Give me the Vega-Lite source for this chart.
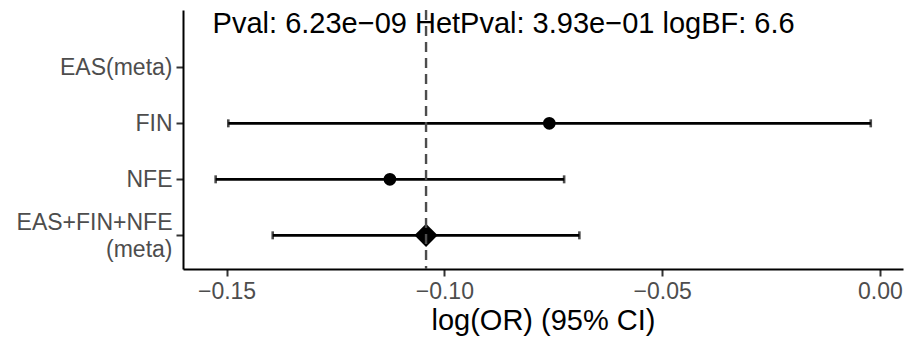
{
  "$schema": "https://vega.github.io/schema/vega-lite/v6.json",
  "width": 720,
  "height": 259,
  "autosize": "none",
  "padding": {"left": 183, "top": 10, "right": 3, "bottom": 71},
  "background": "white",
  "data": {
    "values": [
      {"group": "EAS(meta)", "beta": null, "lo": null, "hi": null, "type": "meta"},
      {"group": "FIN", "beta": -0.0759, "lo": -0.1496, "hi": -0.0021, "type": "study"},
      {"group": "NFE", "beta": -0.1125, "lo": -0.1525, "hi": -0.0725, "type": "study"},
      {"group": "EAS+FIN+NFE (meta)", "beta": -0.1042, "lo": -0.1394, "hi": -0.069, "type": "meta"}
    ]
  },
  "encoding": {
    "y": {
      "field": "group",
      "type": "nominal",
      "sort": null,
      "scale": {
        "domain": ["EAS(meta)", "FIN", "NFE", "EAS+FIN+NFE (meta)"],
        "type": "point",
        "padding": 0.8125,
        "align": 0.63
      },
      "axis": {
        "title": null,
        "labelExpr": "datum.label == 'EAS+FIN+NFE (meta)' ? ['EAS+FIN+NFE', '(meta)'] : datum.label",
        "labelFont": "Liberation Sans",
        "labelFontSize": 23,
        "labelColor": "#4D4D4D",
        "labelLineHeight": 27,
        "labelPadding": 4,
        "labelOffset": {"condition": {"test": "datum.value == 'EAS+FIN+NFE (meta)'", "value": -13}, "value": 0},
        "tickColor": "#333333",
        "tickSize": 7,
        "tickWidth": 2,
        "domainColor": "#000000",
        "domainWidth": 2,
        "grid": false
      }
    }
  },
  "layer": [
    {
      "mark": {"type": "rule", "color": "#000000", "strokeWidth": 2.6},
      "encoding": {
        "x": {
          "field": "lo",
          "type": "quantitative",
          "scale": {"domain": [-0.16, 0.0053], "nice": false, "zero": false},
          "axis": {
            "values": [-0.15, -0.1, -0.05, 0],
            "format": ".2f",
            "title": "log(OR) (95% CI)",
            "titleFont": "Liberation Sans",
            "titleFontSize": 29,
            "titleFontWeight": "normal",
            "titleColor": "#000000",
            "titlePadding": 3,
            "labelFont": "Liberation Sans",
            "labelFontSize": 23,
            "labelColor": "#4D4D4D",
            "labelPadding": 4,
            "tickColor": "#333333",
            "tickSize": 7,
            "tickWidth": 2,
            "domainColor": "#000000",
            "domainWidth": 2,
            "grid": false
          }
        },
        "x2": {"field": "hi"}
      }
    },
    {
      "mark": {"type": "tick", "orient": "vertical", "color": "#000000", "size": 8, "thickness": 2.6},
      "encoding": {"x": {"field": "lo", "type": "quantitative"}}
    },
    {
      "mark": {"type": "tick", "orient": "vertical", "color": "#000000", "size": 8, "thickness": 2.6},
      "encoding": {"x": {"field": "hi", "type": "quantitative"}}
    },
    {
      "mark": {"type": "point", "filled": true, "color": "#000000", "opacity": 1},
      "encoding": {
        "x": {"field": "beta", "type": "quantitative"},
        "shape": {"field": "type", "type": "nominal", "scale": {"domain": ["study", "meta"], "range": ["circle", "diamond"]}, "legend": null},
        "size": {"field": "type", "type": "nominal", "scale": {"domain": ["study", "meta"], "range": [160, 540]}, "legend": null}
      }
    },
    {
      "transform": [{"filter": "datum.group == 'EAS+FIN+NFE (meta)'"}],
      "mark": {"type": "rule", "color": "#4D4D4D", "strokeWidth": 2.4, "strokeDash": [10, 6]},
      "encoding": {"x": {"field": "beta", "type": "quantitative"}, "y": null}
    },
    {
      "data": {"values": [{"label": "Pval: 6.23e−09 HetPval: 3.93e−01 logBF: 6.6"}]},
      "mark": {"type": "text", "align": "left", "baseline": "alphabetic", "dy": -34, "font": "Liberation Sans", "fontSize": 29, "color": "#000000"},
      "encoding": {
        "x": {"datum": -0.1532, "type": "quantitative"},
        "y": {"datum": "EAS(meta)", "type": "nominal"},
        "text": {"field": "label", "type": "nominal"}
      }
    }
  ],
  "config": {
    "view": {"stroke": null},
    "font": "Liberation Sans"
  }
}
